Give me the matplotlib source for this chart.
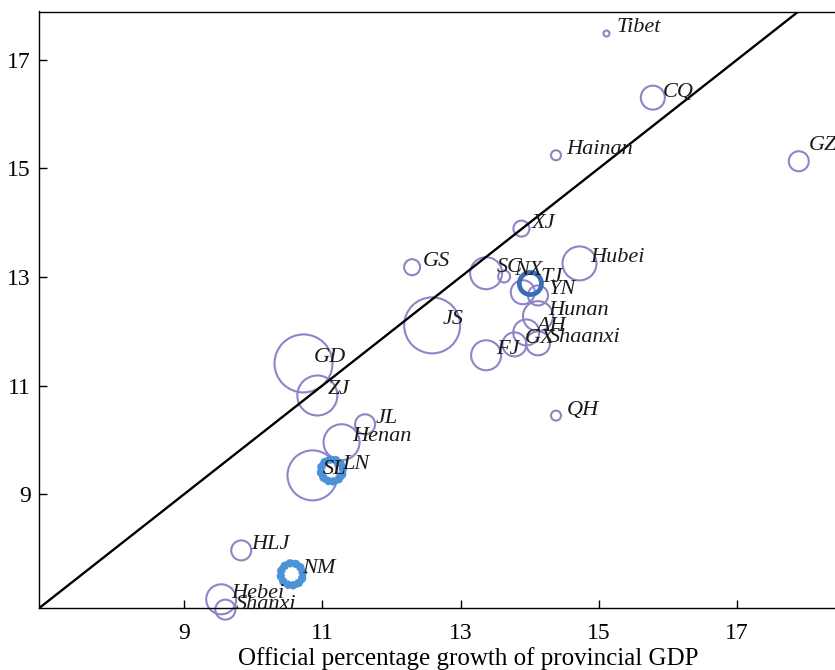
# -*- coding: utf-8 -*-

import numpy as np
import matplotlib
matplotlib.use("Agg")
import matplotlib.pyplot as plt

# provinces: official GDP growth (x) vs. the other growth estimate (y)
provinces = ['Tibet', 'CQ', 'Hainan', 'GZ', 'XJ', 'GS', 'SC', 'NX', 'TJ', '',
             'YN', 'Hunan', 'AH', 'GX', 'Shaanxi', 'FJ', 'Hubei', 'JS', 'GD',
             'ZJ', 'JL', 'Henan', 'LN', 'SL', 'HLJ', 'NM', 'Hebei', 'Shanxi', 'QH']
official_growth = [15.11, 15.78, 14.38, 17.89, 13.88, 12.30, 13.37, 13.63, 14.01, 13.90,
                   14.12, 14.12, 13.95, 13.78, 14.12, 13.37, 14.72, 12.59, 10.73,
                   10.93, 11.62, 11.28, 11.14, 10.86, 9.83, 10.56, 9.54, 9.60, 14.38]
estimated_growth = [17.48, 16.30, 15.24, 15.13, 13.89, 13.18, 13.07, 13.01, 12.88, 12.72,
                    12.66, 12.28, 11.98, 11.76, 11.78, 11.56, 13.25, 12.11, 11.41,
                    10.82, 10.29, 9.96, 9.44, 9.35, 7.97, 7.53, 7.07, 6.88, 10.45]
# bubble weight (relative economic size)
weight = [9, 144, 25, 100, 64, 64, 256, 36, 144, 144,
          100, 225, 169, 144, 144, 225, 289, 784, 841,
          400, 100, 324, 196, 625, 100, 196, 225, 100, 25]
# provinces drawn with a highlighted ring
highlight_dark = ['TJ']
highlight_light = ['LN', 'NM']

ticks = [9, 11, 13, 15, 17]

plt.rcParams['font.family'] = ['Liberation Serif', 'DejaVu Serif']

lavender = '#8e84c6'
dark_blue = '#3b6db4'
light_blue = '#4b92d8'


def bubble_size(w):
    # weight is squared pixel radius, scatter wants points^2 of the diameter
    return 4 * np.asarray(w, dtype=float) * (72.0 / 100) ** 2


fig = plt.figure(figsize=(8.35, 6.70), dpi=100)
# the plot area runs on past the right edge of the picture
ax = fig.add_axes([39 / 835, 62 / 670, (897 - 39) / 835, (608 - 11.5) / 670])

x = np.array(official_growth)
y = np.array(estimated_growth)
s = bubble_size(weight)
names = np.array(provinces)

plain = ~np.isin(names, highlight_dark + highlight_light)
ax.scatter(x[plain], y[plain], s=s[plain], facecolors='none',
           edgecolors=lavender, linewidths=1.5, zorder=2, clip_on=False)

# 45 degree reference line
ax.plot([6.0, 20.0], [6.0, 20.0], color='black', lw=1.7, zorder=3)

m = np.isin(names, highlight_dark)
ax.scatter(x[m], y[m], s=s[m] * 0.85, facecolors='none',
           edgecolors=dark_blue, linewidths=3.4, zorder=4)

m = np.isin(names, highlight_light)
ax.scatter(x[m], y[m], s=s[m] * 0.62, facecolors='none',
           edgecolors=light_blue, linewidths=5.0, zorder=4)
ax.scatter(x[m], y[m], s=s[m] * 0.62, facecolors='none',
           edgecolors=light_blue, linewidths=6.0, linestyle=(0, (0.35, 0.35)),
           zorder=4)

for xi, yi, name in zip(x, y, names):
    if name == '':
        continue
    dy = 4
    if name == 'GZ':
        dy = 11
    ax.annotate(name, (xi, yi), xytext=(7.5, dy), textcoords='offset points',
                ha='left', va='center', fontsize=16, style='italic',
                color='#1a1a1a', zorder=5, annotation_clip=False)

ax.set_xlim(6.906, 19.31)
ax.set_ylim(6.91, 17.885)
ax.set_xticks(ticks)
ax.set_yticks(ticks)
ax.tick_params(direction='in', length=6, width=1, labelsize=17, pad=11)
ax.tick_params(axis='y', pad=6)
for sp in ['left', 'bottom', 'top', 'right']:
    ax.spines[sp].set_linewidth(1.0)
ax.set_xlabel('Official percentage growth of provincial GDP', fontsize=18, labelpad=2)

fig.savefig('out.png', dpi=100)
